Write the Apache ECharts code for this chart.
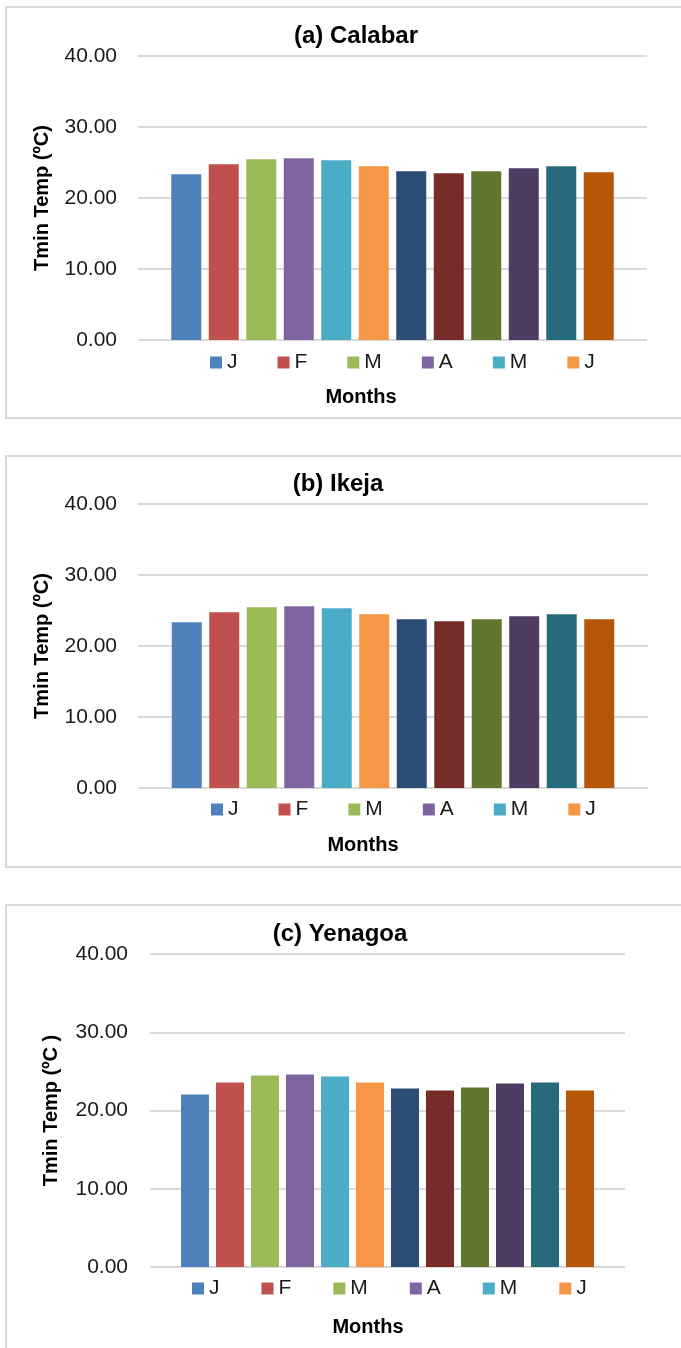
<!DOCTYPE html>
<html>
<head>
<meta charset="utf-8">
<title>Monthly minimum temperature</title>
<script src="https://cdn.jsdelivr.net/npm/echarts@6/dist/echarts.min.js"></script>
<style>
  html, body { margin: 0; padding: 0; background: #ffffff; }
  #chart { width: 681px; height: 1348px; }
</style>
</head>
<body>
<div id="chart"></div>
<script>
// Month series (one bar series per month), legend letters and colours
const months = ['Jan', 'Feb', 'Mar', 'Apr', 'May', 'Jun', 'Jul', 'Aug', 'Sep', 'Oct', 'Nov', 'Dec'];
const monthLetters = ['J', 'F', 'M', 'A', 'M', 'J', 'J', 'A', 'S', 'O', 'N', 'D'];
const monthColors = ['#4F81BD', '#C0504D', '#9BBB59', '#8064A2', '#4BACC6', '#F79646',
                     '#2C4D75', '#772C2A', '#5F7530', '#4D3B62', '#276A7C', '#B65708'];

// Mean minimum temperature (ºC) per month for each station
const calabarTmin = [23.34, 24.75, 25.45, 25.59, 25.31, 24.46, 23.76, 23.48, 23.76, 24.18, 24.46, 23.62];
const ikejaTmin   = [23.34, 24.75, 25.46, 25.60, 25.30, 24.47, 23.76, 23.48, 23.76, 24.18, 24.47, 23.76];
const yenagoaTmin = [22.04, 23.58, 24.47, 24.60, 24.35, 23.58, 22.81, 22.56, 22.94, 23.45, 23.58, 22.56];

// Axis range shared by all panels
const yMin = 0, yMax = 40, yStep = 10;

const stations = [
  { title: '(a) Calabar', yName: 'Tmin Temp (ºC)',  values: calabarTmin },
  { title: '(b) Ikeja',   yName: 'Tmin Temp (ºC)',  values: ikejaTmin },
  { title: '(c) Yenagoa', yName: 'Tmin Temp (ºC )', values: yenagoaTmin }
];

// Panel layout on the page
const layout = [
  { frame: [6, 7, 720, 411],   grid: [138, 56, 509, 284],  barW: 30, nameGap: 86,
    titleXY: [356, 36],  monthsXY: [361, 397],  legendX: 210, legendY: 352,  legendGap: 40 },
  { frame: [6, 456, 720, 411], grid: [138, 504, 510, 284], barW: 30, nameGap: 86,
    titleXY: [338, 484], monthsXY: [363, 845],  legendX: 211, legendY: 799,  legendGap: 40 },
  { frame: [6, 905, 720, 520], grid: [150, 954, 475, 313], barW: 28, nameGap: 89,
    titleXY: [340, 934], monthsXY: [368, 1327], legendX: 192, legendY: 1278, legendGap: 42 }
];

const FONT = '"Liberation Sans", Arial, sans-serif';
const grids = [], xAxes = [], yAxes = [], series = [], legends = [], graphics = [];

stations.forEach((st, p) => {
  const L = layout[p];
  graphics.push({
    type: 'rect', silent: true,
    shape: { x: L.frame[0], y: L.frame[1], width: L.frame[2], height: L.frame[3] },
    style: { fill: 'none', stroke: '#d9d9d9', lineWidth: 2 }
  });
  graphics.push({
    type: 'text', silent: true, x: L.titleXY[0], y: L.titleXY[1],
    style: { text: st.title, align: 'center', verticalAlign: 'middle',
             font: 'bold 24px ' + FONT, fill: '#000' }
  });
  graphics.push({
    type: 'text', silent: true, x: L.monthsXY[0], y: L.monthsXY[1],
    style: { text: 'Months', align: 'center', verticalAlign: 'middle',
             font: 'bold 20px ' + FONT, fill: '#000' }
  });

  grids.push({ left: L.grid[0], top: L.grid[1], width: L.grid[2], height: L.grid[3], containLabel: false });

  xAxes.push({
    type: 'category', gridIndex: p, data: [''],
    axisLine: { show: false }, axisTick: { show: false }, axisLabel: { show: false },
    splitLine: { show: false }
  });

  yAxes.push({
    type: 'value', gridIndex: p, min: yMin, max: yMax, interval: yStep,
    name: st.yName, nameLocation: 'middle', nameRotate: 90, nameGap: L.nameGap,
    nameTextStyle: { fontFamily: FONT, fontSize: 20, fontWeight: 'bold', color: '#000' },
    axisLine: { show: false }, axisTick: { show: false },
    axisLabel: { formatter: v => v.toFixed(2), margin: p === 2 ? 22 : 21,
                 fontFamily: FONT, fontSize: 21, color: '#1a1a1a' },
    splitLine: { show: true, lineStyle: { color: '#d9d9d9', width: 2 } }
  });

  months.forEach((m, i) => {
    series.push({
      type: 'bar', name: m, xAxisIndex: p, yAxisIndex: p,
      data: [st.values[i]],
      barWidth: L.barW, barGap: '25%',
      itemStyle: { color: monthColors[i] },
      emphasis: { disabled: true },
      animation: false
    });
  });

  legends.push({
    left: L.legendX, top: L.legendY, padding: 0,
    orient: 'horizontal', icon: 'rect', itemWidth: 12, itemHeight: 12,
    itemGap: L.legendGap, selectedMode: false,
    data: months.slice(0, 6),
    formatter: name => monthLetters[months.indexOf(name)],
    textStyle: { fontFamily: FONT, fontSize: 21, color: '#1a1a1a' }
  });
});

const chart = echarts.init(document.getElementById('chart'), null, { renderer: 'canvas' });
chart.setOption({
  animation: false,
  backgroundColor: '#ffffff',
  color: monthColors,
  grid: grids,
  xAxis: xAxes,
  yAxis: yAxes,
  legend: legends,
  series: series,
  graphic: graphics
});
</script>
</body>
</html>
